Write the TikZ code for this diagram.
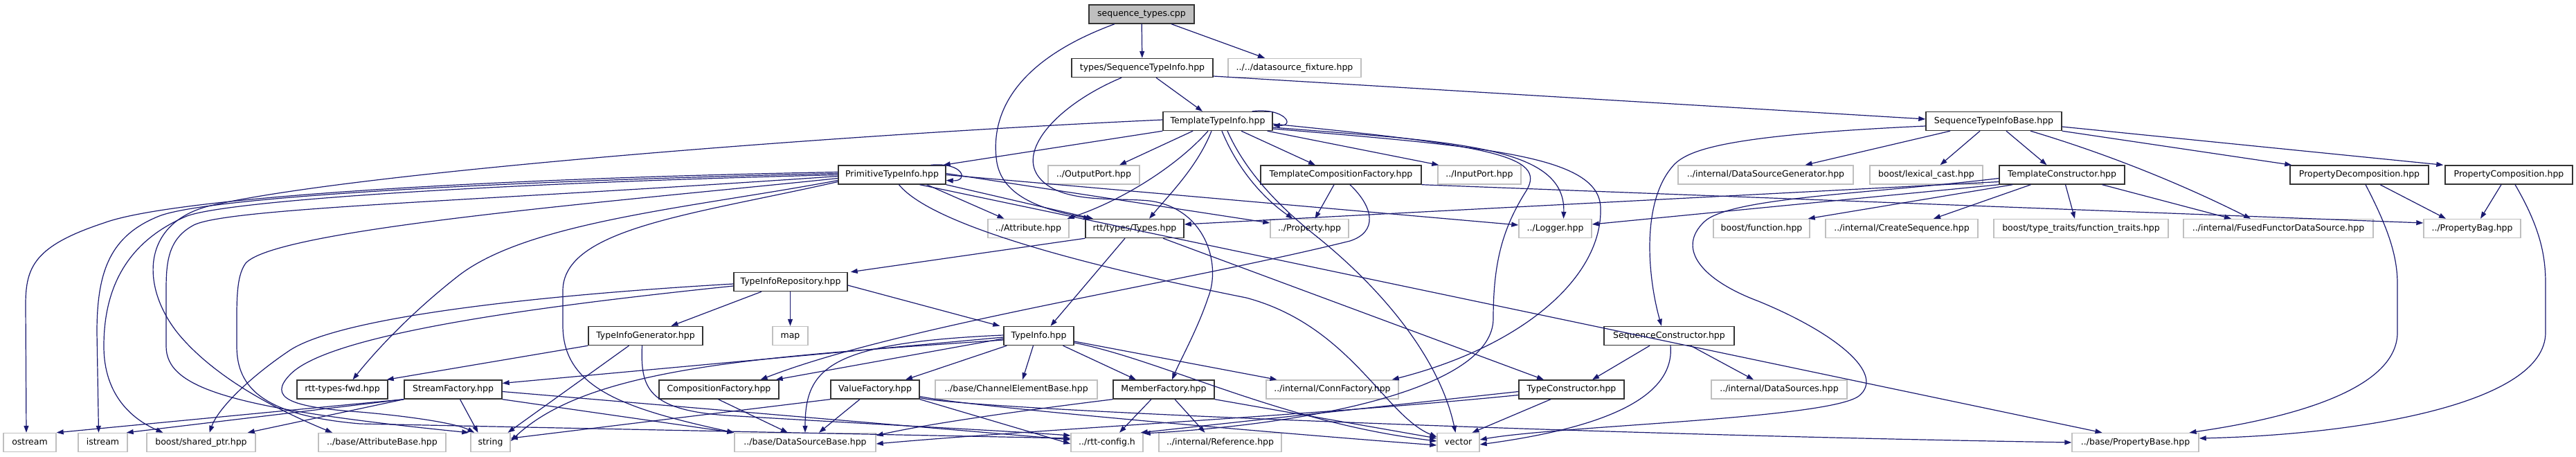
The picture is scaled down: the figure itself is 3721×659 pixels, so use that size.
\documentclass[tikz,border=0pt]{standalone}
\usepackage{fontspec}
\setmainfont{DejaVu Sans}
\usetikzlibrary{arrows.meta}
\definecolor{edgeblue}{HTML}{191970}
\definecolor{extgray}{HTML}{BFBFBF}
\begin{document}
\begin{tikzpicture}[x=1pt,y=-1pt,
  box/.style={draw, line width=1.4pt, minimum height=27pt, inner sep=0pt,
    font=\fontsize{12.5}{15}\selectfont, text height=9.2pt, text depth=2.6pt, anchor=center},
  doc/.style={box, draw=black!80},
  ext/.style={box, draw=extgray},
  root/.style={box, draw=black!80, fill=extgray},
  dep/.style={draw=edgeblue, line width=1.2pt, -{Triangle[length=10pt,width=7pt]}},
]
\fill[white] (0,0) rectangle (3721,659);
\useasboundingbox (0,0) rectangle (3721,659);

% row 1
\node[root, minimum width=152pt] (stc) at (1649,20.5) {sequence\_types.cpp};
% row 2
\node[doc, minimum width=204pt] (sti) at (1650,98) {types/SequenceTypeInfo.hpp};
\node[ext, minimum width=192pt] (dsf) at (1870,98) {../../datasource\_fixture.hpp};
% row 2.5
\node[doc, minimum width=158pt] (tti) at (1759,175) {TemplateTypeInfo.hpp};
\node[doc, minimum width=196pt] (stib) at (2880,175) {SequenceTypeInfoBase.hpp};
% row 3
\node[doc, minimum width=155pt] (pti) at (1288.5,252.5) {PrimitiveTypeInfo.hpp};
\node[ext, minimum width=132pt] (outp) at (1580,252.5) {../OutputPort.hpp};
\node[doc, minimum width=232pt] (tcf) at (1937,252.5) {TemplateCompositionFactory.hpp};
\node[ext, minimum width=120pt] (inp) at (2137,252.5) {../InputPort.hpp};
\node[ext, minimum width=253pt] (dsg) at (2550.5,252.5) {../internal/DataSourceGenerator.hpp};
\node[ext, minimum width=163pt] (lex) at (2782.5,252.5) {boost/lexical\_cast.hpp};
\node[doc, minimum width=181pt] (tc) at (2978.5,252.5) {TemplateConstructor.hpp};
\node[doc, minimum width=200pt] (pd) at (3408,252.5) {PropertyDecomposition.hpp};
\node[doc, minimum width=184pt] (pc) at (3624,252.5) {PropertyComposition.hpp};
% row 4
\node[ext, minimum width=117pt] (attr) at (1485.5,330) {../Attribute.hpp};
\node[doc, minimum width=142pt] (types) at (1639,330) {rtt/types/Types.hpp};
\node[ext, minimum width=113pt] (prop) at (1891.5,330) {../Property.hpp};
\node[ext, minimum width=105pt] (logg) at (2246.5,330) {../Logger.hpp};
\node[ext, minimum width=139pt] (bfun) at (2544.5,330) {boost/function.hpp};
\node[ext, minimum width=220pt] (cseq) at (2747,330) {../internal/CreateSequence.hpp};
\node[ext, minimum width=252pt] (ftr) at (3006,330) {boost/type\_traits/function\_traits.hpp};
\node[ext, minimum width=274pt] (ffds) at (3291,330) {../internal/FusedFunctorDataSource.hpp};
\node[ext, minimum width=140pt] (pbag) at (3571,330) {../PropertyBag.hpp};
% row 5
\node[doc, minimum width=164pt] (tir) at (1142,407) {TypeInfoRepository.hpp};
% row 6
\node[doc, minimum width=165pt] (tig) at (932.5,485) {TypeInfoGenerator.hpp};
\node[ext, minimum width=51pt] (map) at (1141.5,485) {map};
\node[doc, minimum width=101pt] (ti) at (1500.5,485) {TypeInfo.hpp};
\node[doc, minimum width=188pt] (sc) at (2411,485) {SequenceConstructor.hpp};
% row 7
\node[doc, minimum width=131pt] (fwd) at (494.5,562.5) {rtt-types-fwd.hpp};
\node[doc, minimum width=141pt] (sf) at (654.5,562.5) {StreamFactory.hpp};
\node[doc, minimum width=173pt] (cf) at (1038.5,562.5) {CompositionFactory.hpp};
\node[doc, minimum width=128pt] (vf) at (1264,562.5) {ValueFactory.hpp};
\node[ext, minimum width=234pt] (ceb) at (1468,562.5) {../base/ChannelElementBase.hpp};
\node[doc, minimum width=146pt] (mf) at (1681,562.5) {MemberFactory.hpp};
\node[ext, minimum width=191pt] (cfy) at (1924.5,562.5) {../internal/ConnFactory.hpp};
\node[doc, minimum width=152pt] (tcon) at (2270,562.5) {TypeConstructor.hpp};
\node[ext, minimum width=196pt] (dss) at (2570,562.5) {../internal/DataSources.hpp};
% row 8
\node[ext, minimum width=76pt] (ost) at (43,639) {ostream};
\node[ext, minimum width=71pt] (ist) at (148.5,639) {istream};
\node[ext, minimum width=157pt] (shp) at (290.5,639) {boost/shared\_ptr.hpp};
\node[ext, minimum width=184pt] (ab) at (552,639) {../base/AttributeBase.hpp};
\node[ext, minimum width=57pt] (str) at (708.5,639) {string};
\node[ext, minimum width=204pt] (dsb) at (1163,639) {../base/DataSourceBase.hpp};
\node[ext, minimum width=104pt] (cfg) at (1599,639) {../rtt-config.h};
\node[ext, minimum width=177pt] (ref) at (1762.5,639) {../internal/Reference.hpp};
\node[ext, minimum width=61pt] (vec) at (2106.5,639) {vector};
\node[ext, minimum width=183pt] (pb) at (3084.5,639) {../base/PropertyBase.hpp};

% sequence_types.cpp
\draw[dep] (stc) -- (sti);
\draw[dep] ([xshift=43pt]stc.south) -- ([xshift=-43pt]dsf.north);
\draw[dep] ([xshift=-39pt]stc.south) .. controls (1460,90) and (1430,170) .. (1440,235) .. controls (1450,290) and (1520,305) .. ([xshift=-64pt]types.north);

% types/SequenceTypeInfo.hpp
\draw[dep] ([xshift=20pt]sti.south) -- ([xshift=-22pt]tti.north);
\draw[dep] ([yshift=-12pt]sti.east) -- ([yshift=3pt]stib.west);
\draw[dep] ([xshift=-30pt]sti.south) .. controls (1530,150) and (1470,215) .. (1500,255) .. controls (1530,295) and (1610,285) .. (1660,290) .. controls (1740,300) and (1765,380) .. (1745,430) .. controls (1730,475) and (1705,520) .. ([xshift=12pt]mf.north);

% TemplateTypeInfo.hpp
\draw[dep] ([xshift=-30pt]tti.north east) .. controls (1855,155) and (1872,182) .. ([yshift=-6pt]tti.east);
\draw[dep] (tti.south west) -- ([xshift=-4pt]pti.north east);
\draw[dep] ([xshift=-36pt]tti.south) -- ([xshift=37pt]outp.north);
\draw[dep] ([xshift=34pt]tti.south) -- ([xshift=-37pt]tcf.north);
\draw[dep] ([xshift=-8pt]tti.south east) -- ([xshift=2pt]inp.north west);
\draw[dep] ([xshift=-14pt]tti.south) .. controls (1700,240) and (1620,290) .. ([xshift=-3pt]attr.north east);
\draw[dep] ([xshift=-9pt]tti.south) .. controls (1730,240) and (1690,280) .. ([xshift=21pt]types.north);
\draw[dep] ([xshift=6pt]tti.south) .. controls (1790,250) and (1830,290) .. ([xshift=-24pt]prop.north);
\draw[dep] ([yshift=-9pt]tti.east) .. controls (2100,205) and (2262,210) .. ([xshift=12pt]logg.north);
\draw[dep] ([yshift=-11pt]tti.east) .. controls (2150,212) and (2310,225) .. (2312,300) .. controls (2315,400) and (2200,500) .. ([xshift=-10pt]cfy.north east);
\draw[dep] ([yshift=-4pt]tti.east) .. controls (2150,210) and (2235,225) .. (2205,275) .. controls (2170,330) and (2157,380) .. (2157,460) .. controls (2157,560) and (1900,612) .. ([yshift=13pt]cfg.east);
\draw[dep] ([xshift=14pt]tti.south) .. controls (1800,250) and (1850,300) .. (1900,340) .. controls (2000,420) and (2080,520) .. ([xshift=-4pt]vec.north);
\draw[dep] ([yshift=2pt]tti.west) .. controls (1200,195) and (500,250) .. (300,298) .. controls (200,325) and (205,420) .. (260,485) .. controls (320,555) and (420,600) .. ([xshift=-72pt]ab.north);

% PrimitiveTypeInfo.hpp
\draw[dep] ([xshift=-22pt]pti.north east) .. controls (1392,234) and (1400,262) .. ([yshift=-8pt]pti.east);
\draw[dep] ([xshift=-28pt]pti.south east) -- ([xshift=-35pt]attr.north);
\draw[dep] (pti.south east) -- ([xshift=-60pt]types.north);
\draw[dep] ([yshift=2pt]pti.east) -- ([yshift=8pt]prop.west);
\draw[dep] (pti.east) -- ([yshift=5pt]logg.west);
\draw[dep] ([yshift=-8pt]pti.west) .. controls (1000,300) and (760,320) .. (660,400) .. controls (590,455) and (540,510) .. ([xshift=15pt]fwd.north);
\draw[dep] ([yshift=4pt]pti.west) .. controls (700,258) and (250,285) .. (150,322) .. controls (50,355) and (37,385) .. (37,440) -- ([xshift=-5pt]ost.north);
\draw[dep] ([yshift=2pt]pti.west) .. controls (700,262) and (300,285) .. (230,312) .. controls (160,340) and (140,390) .. (140,480) -- ([xshift=-6pt]ist.north);
\draw[dep] (pti.west) .. controls (700,265) and (330,290) .. (270,312) .. controls (180,350) and (150,420) .. (150,500) .. controls (150,570) and (190,605) .. ([xshift=-55pt]shp.north);
\draw[dep] ([yshift=-2pt]pti.west) .. controls (700,290) and (330,300) .. (280,325) .. controls (242,345) and (240,380) .. (240,420) -- (240,500) .. controls (240,560) and (330,590) .. ([xshift=-2pt]str.north west);
\draw[dep] ([yshift=-5pt]pti.west) .. controls (900,290) and (400,330) .. (355,380) .. controls (340,400) and (342,440) .. (342,500) .. controls (342,560) and (380,600) .. (520,612) .. controls (900,620) and (1300,628) .. ([yshift=6pt]cfg.west);
\draw[dep] ([yshift=-10pt]pti.west) .. controls (1000,310) and (813,330) .. (813,420) -- (813,470) .. controls (813,560) and (900,590) .. (dsb.north west);
\draw[dep] ([xshift=40pt]pti.south) -- ([xshift=-48pt]pb.north);
\draw[dep] ([xshift=10pt]pti.south) .. controls (1350,330) and (1600,390) .. (1800,430) .. controls (1950,470) and (2000,600) .. ([yshift=8pt]vec.west);

% TemplateCompositionFactory.hpp
\draw[dep] ([xshift=-10pt]tcf.south) -- ([xshift=8pt]prop.north);
\draw[dep] (tcf.south east) -- ([yshift=8pt]pbag.west);
\draw[dep] ([xshift=13pt]tcf.south) .. controls (1985,300) and (1990,335) .. (1950,348) .. controls (1700,410) and (1300,470) .. ([xshift=60pt]cf.north);

% SequenceTypeInfoBase.hpp
\draw[dep] ([xshift=-63pt]stib.south) -- ([xshift=57pt]dsg.north);
\draw[dep] ([xshift=-20pt]stib.south) -- ([xshift=20pt]lex.north);
\draw[dep] ([xshift=18pt]stib.south) -- ([xshift=-22pt]tc.north);
\draw[dep] ([xshift=53pt]stib.south) .. controls (3070,230) and (3180,280) .. ([xshift=-40pt]ffds.north);
\draw[dep] (stib.south east) -- ([xshift=3pt]pd.north west);
\draw[dep] ([yshift=-8pt]stib.east) -- ([xshift=-2pt]pc.north west);
\draw[dep] ([yshift=-7pt]stib.west) .. controls (2500,195) and (2440,215) .. (2418,238) .. controls (2370,290) and (2380,400) .. ([xshift=-11pt]sc.north);

% TemplateConstructor.hpp
\draw[dep] ([yshift=-10pt]tc.west) -- ([yshift=6pt]types.east);
\draw[dep] (tc.south west) -- ([yshift=6pt]logg.east);
\draw[dep] ([xshift=20pt]tc.south west) -- ([xshift=-3pt]bfun.north east);
\draw[dep] ([xshift=-45pt]tc.south) -- ([xshift=46pt]cseq.north);
\draw[dep] ([xshift=5pt]tc.south) -- ([xshift=-9pt]ftr.north);
\draw[dep] ([xshift=58pt]tc.south) -- ([xshift=-68pt]ffds.north);
\draw[dep] ([yshift=-5pt]tc.west) .. controls (2700,280) and (2500,285) .. (2462,320) .. controls (2420,360) and (2460,405) .. (2540,435) .. controls (2650,480) and (2725,540) .. (2685,572) .. controls (2640,605) and (2250,615) .. ([yshift=4pt]vec.east);

% PropertyDecomposition / PropertyComposition
\draw[dep] ([xshift=30pt]pd.south) -- ([xshift=-38pt]pbag.north);
\draw[dep] ([xshift=9pt]pd.south) .. controls (3450,330) and (3463,370) .. (3463,410) -- (3463,480) .. controls (3463,565) and (3300,605) .. ([xshift=78pt]pb.north);
\draw[dep] ([xshift=-11pt]pc.south) -- ([xshift=12pt]pbag.north);
\draw[dep] ([xshift=9pt]pc.south) .. controls (3670,330) and (3677,370) .. (3677,410) -- (3677,480) .. controls (3677,585) and (3400,628) .. ([yshift=6pt]pb.east);

% rtt/types/Types.hpp
\draw[dep] (types.south west) -- ([xshift=4pt]tir.north east);
\draw[dep] ([xshift=-14pt]types.south) -- ([xshift=17pt]ti.north);
\draw[dep] ([xshift=41pt]types.south) -- ([xshift=-40pt]tcon.north);

% TypeInfoRepository.hpp
\draw[dep] ([xshift=-42pt]tir.south) -- ([xshift=37pt]tig.north);
\draw[dep] ([xshift=-0.5pt]tir.south) -- (map.north);
\draw[dep] ([yshift=-5pt]tir.east) -- ([xshift=-5pt]ti.north west);
\draw[dep] ([yshift=-3pt]tir.west) .. controls (800,425) and (500,455) .. (420,505) .. controls (360,545) and (315,590) .. ([xshift=12pt]shp.north);
\draw[dep] ([yshift=-6pt]tir.west) .. controls (800,440) and (480,480) .. (420,540) .. controls (385,575) and (420,588) .. (520,595) .. controls (600,602) and (660,612) .. ([xshift=6pt]str.north west);

% TypeInfoGenerator.hpp
\draw[dep] (tig.south west) -- ([xshift=-2pt]fwd.north east);
\draw[dep] ([xshift=-24pt]tig.south) -- ([xshift=25pt]str.north);
\draw[dep] ([xshift=-5pt]tig.south) .. controls (925,560) and (935,592) .. (1050,600) .. controls (1300,615) and (1450,622) .. ([yshift=10pt]cfg.west);

% TypeInfo.hpp
\draw[dep] ([yshift=-2pt]ti.west) -- ([yshift=9pt]sf.east);
\draw[dep] ([yshift=-4pt]ti.west) -- ([xshift=-5pt]cf.north east);
\draw[dep] ([xshift=5pt]ti.south west) -- ([xshift=44pt]vf.north);
\draw[dep] ([xshift=-8pt]ti.south) -- ([xshift=9pt]ceb.north);
\draw[dep] ([xshift=35pt]ti.south) -- ([xshift=-40pt]mf.north);
\draw[dep] ([yshift=-8pt]ti.east) -- ([xshift=-80pt]cfy.north);
\draw[dep] ([yshift=-6pt]ti.west) .. controls (1100,515) and (850,530) .. ([yshift=2pt]str.east);
\draw[dep] ([yshift=1pt]ti.west) .. controls (1200,495) and (1163,530) .. (dsb.north);
\draw[dep] ([yshift=-10pt]ti.east) .. controls (1680,520) and (1850,610) .. ([yshift=2pt]vec.west);

% SequenceConstructor.hpp
\draw[dep] ([xshift=-28pt]sc.south) -- ([xshift=30pt]tcon.north);
\draw[dep] ([xshift=31pt]sc.south) -- ([xshift=-37pt]dss.north);
\draw[dep] ([xshift=2pt]sc.south) .. controls (2420,580) and (2300,620) .. ([yshift=-3pt]vec.east);

% StreamFactory.hpp
\draw[dep] (sf.south west) -- (ost.north east);
\draw[dep] (sf.south west) -- ([xshift=-2pt]ist.north east);
\draw[dep] (sf.south west) -- ([xshift=-12pt]shp.north east);
\draw[dep] ([xshift=10pt]sf.south) -- ([xshift=-18pt]str.north);
\draw[dep] (sf.south east) -- (dsb.north west);
\draw[dep] ([yshift=-3pt]sf.east) -- ([yshift=4pt]cfg.west);

% CompositionFactory.hpp / ValueFactory.hpp
\draw[dep] ([xshift=-1pt]cf.south) -- ([xshift=-25pt]dsb.north);
\draw[dep] ([xshift=-22pt]vf.south) -- ([xshift=20pt]dsb.north);
\draw[dep] (vf.south west) -- ([yshift=6pt]str.east);
\draw[dep] (vf.south east) -- ([yshift=-2pt]cfg.west);
\draw[dep] ([yshift=-10pt]vf.east) .. controls (1400,588) and (1900,630) .. ([yshift=-4pt]vec.west);
\draw[dep] ([yshift=-12pt]vf.east) .. controls (1400,592) and (2300,628) .. (pb.west);

% MemberFactory.hpp
\draw[dep] ([xshift=-18pt]mf.south) -- ([xshift=18pt]cfg.north);
\draw[dep] ([xshift=16pt]mf.south) -- ([xshift=-22pt]ref.north);
\draw[dep] (mf.south east) -- ([yshift=6pt]vec.west);
\draw[dep] (mf.south west) .. controls (1500,590) and (1350,610) .. ([yshift=10pt]dsb.east);

% TypeConstructor.hpp
\draw[dep] ([xshift=-30pt]tcon.south) -- ([xshift=20pt]vec.north);
\draw[dep] ([yshift=-3pt]tcon.west) -- ([xshift=-4pt]cfg.north east);
\draw[dep] ([yshift=-8pt]tcon.west) .. controls (1900,600) and (1500,620) .. ([yshift=-2pt]dsb.east);
\end{tikzpicture}
\end{document}
